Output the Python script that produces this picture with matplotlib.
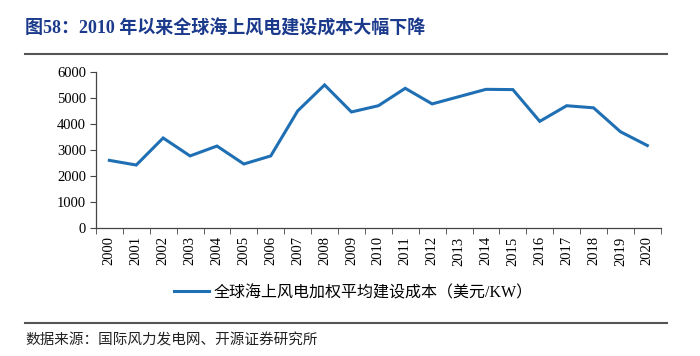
import matplotlib.pyplot as plt
from matplotlib.lines import Line2D

years = [str(y) for y in range(2000, 2021)]
cost = [2600, 2420, 3460, 2770, 3150, 2460, 2770, 4500, 5500, 4460, 4700,
        5370, 4770, 5050, 5330, 5320, 4100, 4700, 4620, 3700, 3170]
yticks = [0, 1000, 2000, 3000, 4000, 5000, 6000]

fonts = ['Liberation Serif', 'Noto Sans CJK SC', 'DejaVu Sans']
plt.rcParams['font.family'] = fonts

fig = plt.figure(figsize=(7, 3.56), dpi=100)
ax = fig.add_axes([0.137, 0.3596, 0.807, 0.4384])

x = list(range(len(years)))
ax.plot(x, cost, color='#1f6fb4', linewidth=2.2, solid_joinstyle='miter')

ax.set_xlim(-0.5, len(years) - 0.5)
ax.set_ylim(0, 6000)
ax.set_yticks(yticks)
ax.set_yticklabels([str(v) for v in yticks], fontsize=10.5)
ax.set_xticks(x)
ax.set_xticklabels(years, rotation=90, fontsize=10.5)
ax.tick_params(axis='x', length=0, pad=6)
# ticks on the category boundaries
ax.set_xticks([i - 0.5 for i in range(len(years) + 1)], minor=True)
ax.tick_params(axis='x', which='minor', length=4, direction='out', color='#444444')
ax.tick_params(axis='y', length=4, direction='out', color='#444444', pad=3)

for s in ['top', 'right']:
    ax.spines[s].set_visible(False)
for s in ['left', 'bottom']:
    ax.spines[s].set_color('#444444')
    ax.spines[s].set_linewidth(0.9)

# legend
handle = Line2D([], [], color='#1f6fb4', linewidth=2.2)
fig.legend([handle], ['全球海上风电加权平均建设成本（美元/KW）'], loc='center',
           bbox_to_anchor=(0.505, 0.177), frameon=False, fontsize=11.5,
           handlelength=2.2, handletextpad=0.3)

# title and source
fig.text(0.036, 0.92, '图58：2010 年以来全球海上风电建设成本大幅下降',
         fontsize=13, fontweight='bold', color='#1b3a8c', va='center')
fig.add_artist(Line2D([0.036, 0.953], [0.848, 0.848], color='#555555', linewidth=1.5))
fig.add_artist(Line2D([0.036, 0.953], [0.093, 0.093], color='#555555', linewidth=1.5))
fig.text(0.036, 0.045, '数据来源：国际风力发电网、开源证券研究所', fontsize=10.5,
         color='#222222', va='center')

fig.savefig('out.png', dpi=100, facecolor='white')
